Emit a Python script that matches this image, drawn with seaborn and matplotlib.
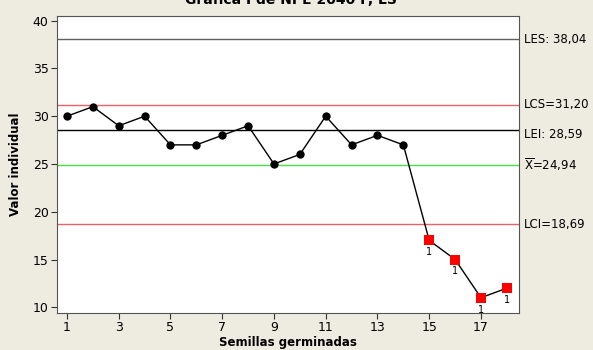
import numpy as np
import pandas as pd
import seaborn as sns
import matplotlib
matplotlib.use('Agg')
import matplotlib.pyplot as plt

# datos de la carta I
muestra = list(range(1, 19))
valores = [30, 31, 29, 30, 27, 27, 28, 29, 25, 26, 30, 27, 28, 27, 17, 15, 11, 12]
fuera = [15, 16, 17, 18]

media = 24.94
lcs = 31.20
lci = 18.69
les = 38.04
lei = 28.59

df = pd.DataFrame({'Muestra': muestra, 'Valor': valores})
df['Fuera'] = df['Muestra'].isin(fuera)

sns.set_style('ticks')
plt.rcParams['font.family'] = ['DejaVu Sans']
plt.rcParams['text.color'] = 'black'
plt.rcParams['axes.labelcolor'] = 'black'
plt.rcParams['xtick.color'] = 'black'
plt.rcParams['ytick.color'] = 'black'
fondo = '#EEEBE0'

fig = plt.figure(figsize=(5.93, 3.5), dpi=100, facecolor=fondo)
ax = fig.add_axes([57/593, 1 - 313/350, 462/593, 297/350])
ax.set_facecolor('white')

ax.axhline(les, color='#606060', lw=1, zorder=1)
ax.axhline(lcs, color='#EE6068', lw=1, zorder=1)
ax.axhline(lei, color='black', lw=1, zorder=1)
ax.axhline(media, color='#44E044', lw=1, zorder=1)
ax.axhline(lci, color='#EE6068', lw=1, zorder=1)

sns.lineplot(data=df, x='Muestra', y='Valor', color='black', lw=1, ax=ax, zorder=2)
sns.scatterplot(data=df[~df['Fuera']], x='Muestra', y='Valor', color='black', s=36,
                marker='o', edgecolor='black', linewidth=0, ax=ax, zorder=3)
sns.scatterplot(data=df[df['Fuera']], x='Muestra', y='Valor', color='#FF0000', s=46,
                marker='s', edgecolor='#FF0000', linewidth=0, ax=ax, zorder=3)

for m, v in zip(df.loc[df['Fuera'], 'Muestra'], df.loc[df['Fuera'], 'Valor']):
    ax.annotate('1', (m, v), xytext=(0, -5), textcoords='offset points',
                ha='center', va='top', fontsize=7)

ax.set_xlim(0.614, 18.47)
ax.set_ylim(9.40, 40.49)
ax.set_xticks(range(1, 18, 2))
ax.set_yticks(range(10, 41, 5))
ax.tick_params(labelsize=9, length=4, width=0.8, color='#333333', pad=2)
for s in ax.spines.values():
    s.set_color('#555555')
    s.set_linewidth(0.8)

etiquetas = [(les, 'LES: 38,04'), (lcs, 'LCS=31,20'), (lei, 'LEI: 28,59'),
             (media, r'$\overline{\mathrm{X}}$=24,94'), (lci, 'LCI=18,69')]
for yv, txt in etiquetas:
    off = -0.5 if txt.startswith('LEI') else 0
    ax.text(1.011, yv + off, txt, transform=ax.get_yaxis_transform(),
            ha='left', va='center', fontsize=8.5)

ax.set_xlabel('Semillas germinadas', fontsize=8.5, fontweight='bold', labelpad=1)
ax.set_ylabel('Valor individual', fontsize=8.5, fontweight='bold', labelpad=8)
fig.text(0.49, 1.0, 'Gráfica I de NPE 2040 P, LS', ha='center', va='center',
         fontsize=10, fontweight='bold')

fig.savefig('out.png', dpi=100, facecolor=fondo)
